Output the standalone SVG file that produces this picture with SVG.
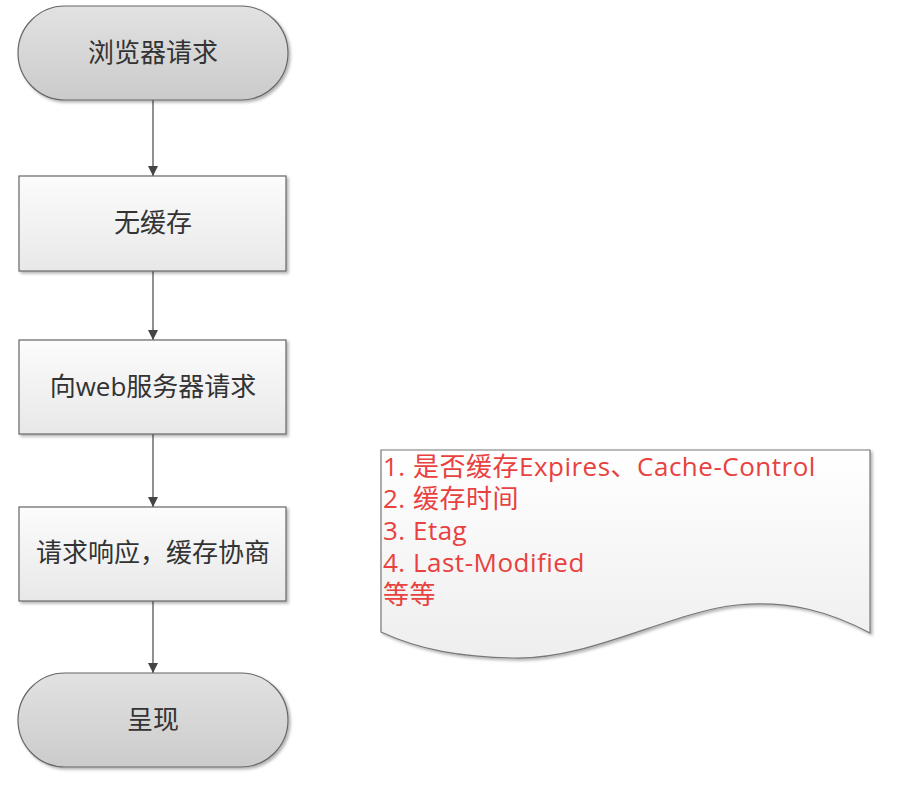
<svg xmlns="http://www.w3.org/2000/svg" width="898" height="790" viewBox="0 0 898 790">
<defs>
<linearGradient id="gTerm" x1="0" y1="0" x2="0" y2="1">
<stop offset="0" stop-color="#e2e2e2"/>
<stop offset="1" stop-color="#cbcbcb"/>
</linearGradient>
<linearGradient id="gBox" x1="0" y1="0" x2="0" y2="1">
<stop offset="0" stop-color="#fcfcfc"/>
<stop offset="1" stop-color="#e8e8e8"/>
</linearGradient>
<linearGradient id="gDoc" x1="0" y1="0" x2="0" y2="1">
<stop offset="0" stop-color="#ffffff"/>
<stop offset="1" stop-color="#eeeeee"/>
</linearGradient>
<filter id="sh" x="-10%" y="-10%" width="130%" height="130%">
<feDropShadow dx="2" dy="2" stdDeviation="1.5" flood-color="#000" flood-opacity="0.3"/>
</filter>
<marker id="arr" viewBox="0 0 10 10" refX="10" refY="5" markerWidth="10" markerHeight="10" markerUnits="userSpaceOnUse" orient="auto">
<path d="M0,0 L10,5 L0,10 Z" fill="#444"/>
</marker>
</defs>
<style>
.term{fill:url(#gTerm);stroke:#666;stroke-width:1.2;filter:url(#sh)}
.box{fill:url(#gBox);stroke:#666;stroke-width:1.2;filter:url(#sh)}
.doc{fill:url(#gDoc);stroke:#777;stroke-width:1.2;filter:url(#sh)}
.lbl{font-family:"Open Sans","Noto Sans CJK SC",sans-serif;font-size:26px;fill:#333;text-anchor:middle}
.note{font-family:"Open Sans","Noto Sans CJK SC",sans-serif;font-size:26px;letter-spacing:0.5px;fill:#e8413f}
.conn{stroke:#555;stroke-width:1.3;fill:none;marker-end:url(#arr)}
</style>
<g id="connectors">
<line class="conn" x1="153" y1="100" x2="153" y2="176"/>
<line class="conn" x1="153" y1="271" x2="153" y2="340"/>
<line class="conn" x1="153" y1="434" x2="153" y2="507"/>
<line class="conn" x1="153" y1="601" x2="153" y2="673"/>
</g>
<g id="start">
<rect class="term" x="18" y="6" width="270" height="94" rx="47" ry="47"/>
<text class="lbl" x="153" y="62">浏览器请求</text>
</g>
<g id="nocache">
<rect class="box" x="19" y="176" width="267" height="95"/>
<text class="lbl" x="153" y="232">无缓存</text>
</g>
<g id="request">
<rect class="box" x="19" y="340" width="267" height="94"/>
<text class="lbl" x="153" y="396">向web服务器请求</text>
</g>
<g id="response">
<rect class="box" x="19" y="507" width="267" height="94"/>
<text class="lbl" x="153" y="562">请求响应，缓存协商</text>
</g>
<g id="render">
<rect class="term" x="18" y="673" width="270" height="94" rx="47" ry="47"/>
<text class="lbl" x="153" y="729">呈现</text>
</g>
<g id="note">
<path class="doc" d="M381,450 H870 V633 C830,612 790,600 737,605 C670,612 590,660 513,658 C460,657 420,650 381,632 Z"/>
<text class="note" x="383" y="476"><tspan x="383" y="476">1. 是否缓存Expires、Cache-Control</tspan><tspan x="383" y="508">2. 缓存时间</tspan><tspan x="383" y="540">3. Etag</tspan><tspan x="383" y="572">4. Last-Modified</tspan><tspan x="383" y="604">等等</tspan></text>
</g>
</svg>
